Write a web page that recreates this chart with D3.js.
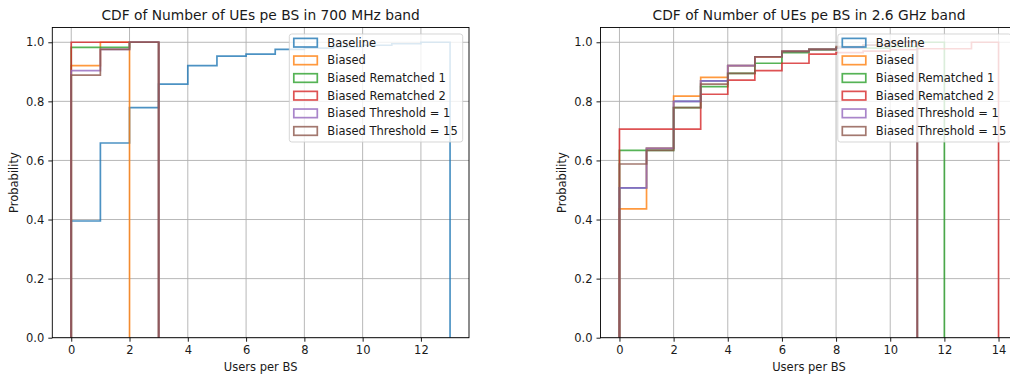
<!DOCTYPE html>
<html>
<head>
<meta charset="utf-8">
<script src="https://cdn.jsdelivr.net/npm/d3@7"></script>
<style>
  body { margin: 0; background: #fff; }
  svg { display: block; overflow: hidden; }
  text { font-family: "DejaVu Sans", sans-serif; fill: #1a1a1a; }
</style>
</head>
<body>
<div id="chart"></div>
<script>
// cumulative share of BSs per bin, bins start at 0 and are 1 user wide
var seriesNames = ["Baseline", "Biased", "Biased Rematched 1", "Biased Rematched 2",
    "Biased Threshold = 1", "Biased Threshold = 15"];
var seriesColors = ["#1f77b4", "#ff7f0e", "#2ca02c", "#d62728", "#9467bd", "#8c564b"];

var baseline700 = [0.395, 0.659, 0.779, 0.858, 0.921, 0.953, 0.960, 0.976, 0.980, 0.985, 0.990, 0.995, 1.0];
var biased700 = [0.921, 1.0];
var rematched1_700 = [0.983, 0.983, 1.0];
var rematched2_700 = [1.0, 1.0, 1.0];
var threshold1_700 = [0.904, 0.976, 1.0];
var threshold15_700 = [0.889, 0.976, 1.0];

var baseline26 = [0.507, 0.641, 0.800, 0.869, 0.921, 0.951, 0.969, 0.976, 0.980, 0.990, 1.0];
var biased26 = [0.436, 0.641, 0.818, 0.881, 0.921, 0.950, 0.969, 0.976, 0.980, 0.990, 1.0];
var rematched1_26 = [0.634, 0.634, 0.779, 0.850, 0.895, 0.929, 0.965, 0.975, 0.980, 0.980, 0.985, 1.0];
var rematched2_26 = [0.706, 0.706, 0.706, 0.824, 0.872, 0.904, 0.929, 0.960, 0.965, 0.970, 0.975, 0.978, 0.978, 1.0];
var threshold1_26 = [0.507, 0.641, 0.800, 0.869, 0.921, 0.951, 0.969, 0.976, 0.980, 0.990, 1.0];
var threshold15_26 = [0.588, 0.634, 0.779, 0.858, 0.895, 0.951, 0.969, 0.976, 0.985, 0.990, 1.0];

var xTicks700 = [0, 2, 4, 6, 8, 10, 12];
var xTicks26 = [0, 2, 4, 6, 8, 10, 12, 14];
var yTicks = [0, 0.2, 0.4, 0.6, 0.8, 1.0];

(function () {

    var width = 1010, height = 377;
    var top = 27.5, bottom = 337.7;
    var fs = 11.5;

    var svg = d3.select("#chart").append("svg")
        .attr("width", width)
        .attr("height", height);

    var panels = [
        {
            title: "CDF of Number of UEs pe BS in 700 MHz band",
            left: 52.3, right: 469,
            series: [baseline700, biased700, rematched1_700, rematched2_700, threshold1_700, threshold15_700],
            ticks: xTicks700
        },
        {
            title: "CDF of Number of UEs pe BS in 2.6 GHz band",
            left: 600.5, right: 1017.5,
            series: [baseline26, biased26, rematched1_26, rematched2_26, threshold1_26, threshold15_26],
            ticks: xTicks26
        }
    ];

    panels.forEach(drawPanel);

    function drawPanel(p) {
        var maxEdge = d3.max(p.series, function (s) { return s.length; });
        var pad = maxEdge * 0.05;
        var x = d3.scaleLinear().domain([-pad, maxEdge + pad]).range([p.left, p.right]);
        // hist keeps the bottom of the y range at 0
        var y = d3.scaleLinear().domain([0, 1.05]).range([bottom, top]);

        var g = svg.append("g");

        var clipId = "clip" + Math.round(p.left);
        g.append("clipPath").attr("id", clipId)
            .append("rect")
            .attr("x", p.left).attr("y", top)
            .attr("width", p.right - p.left).attr("height", bottom - top);

        var grid = g.append("g").attr("stroke", "#b0b0b0").attr("stroke-width", 0.9);
        grid.selectAll(".vg").data(p.ticks).enter().append("line")
            .attr("x1", function (d) { return x(d); }).attr("x2", function (d) { return x(d); })
            .attr("y1", top).attr("y2", bottom);
        grid.selectAll(".hg").data(yTicks).enter().append("line")
            .attr("x1", p.left).attr("x2", p.right)
            .attr("y1", function (d) { return y(d); }).attr("y2", function (d) { return y(d); });

        // step outline of each cumulative histogram
        var line = d3.line()
            .x(function (d) { return x(d[0]); })
            .y(function (d) { return y(d[1]); });

        var stepPoints = function (vals) {
            var pts = [[0, 0]];
            vals.forEach(function (v, i) {
                pts.push([i, v]);
                pts.push([i + 1, v]);
            });
            pts.push([vals.length, 0]);
            return pts;
        };

        g.append("g").attr("clip-path", "url(#" + clipId + ")")
            .selectAll("path")
            .data(p.series)
            .enter().append("path")
            .attr("d", function (d) { return line(stepPoints(d)); })
            .attr("fill", "none")
            .attr("stroke", function (d, i) { return seriesColors[i]; })
            .attr("stroke-opacity", 0.8)
            .attr("stroke-width", 1.7);

        g.append("rect")
            .attr("x", p.left).attr("y", top)
            .attr("width", p.right - p.left).attr("height", bottom - top)
            .attr("fill", "none").attr("stroke", "#000").attr("stroke-width", 0.9);

        var xAxis = d3.axisBottom(x).tickValues(p.ticks).tickSize(4).tickPadding(4)
            .tickFormat(d3.format("d"));
        g.append("g")
            .attr("transform", "translate(0," + bottom + ")")
            .call(xAxis)
            .call(styleAxis);

        var yAxis = d3.axisLeft(y).tickValues(yTicks).tickSize(4).tickPadding(4)
            .tickFormat(d3.format(".1f"));
        g.append("g")
            .attr("transform", "translate(" + p.left + ",0)")
            .call(yAxis)
            .call(styleAxis);

        g.append("text")
            .attr("x", (p.left + p.right) / 2)
            .attr("y", 20)
            .attr("text-anchor", "middle")
            .style("font-size", "13.8px")
            .text(p.title);

        g.append("text")
            .attr("x", (p.left + p.right) / 2)
            .attr("y", 371)
            .attr("text-anchor", "middle")
            .style("font-size", fs + "px")
            .text("Users per BS");

        g.append("text")
            .attr("transform", "translate(" + (p.left - 38.5) + "," + ((top + bottom) / 2) + ") rotate(-90)")
            .attr("dy", "0.35em")
            .attr("text-anchor", "middle")
            .style("font-size", fs + "px")
            .text("Probability");

        // legend
        var lw = 173.4, lh = 108;
        var lx = p.right - 6.3 - lw, ly = top + 6.5;
        var legend = g.append("g").attr("transform", "translate(" + lx + "," + ly + ")");
        legend.append("rect")
            .attr("width", lw).attr("height", lh)
            .attr("rx", 2.5)
            .attr("fill", "#fff").attr("fill-opacity", 0.8)
            .attr("stroke", "#cccccc").attr("stroke-opacity", 0.8).attr("stroke-width", 1);
        var rows = legend.selectAll(".item")
            .data(seriesNames)
            .enter().append("g")
            .attr("transform", function (d, i) { return "translate(0," + (8.7 + i * 17.66) + ")"; });
        rows.append("rect")
            .attr("x", 4.5).attr("y", -4.3)
            .attr("width", 23.5).attr("height", 8.6)
            .attr("fill", "none")
            .attr("stroke", function (d, i) { return seriesColors[i]; })
            .attr("stroke-opacity", 0.8)
            .attr("stroke-width", 1.7);
        rows.append("text")
            .attr("x", 38)
            .attr("dy", "0.35em")
            .style("font-size", fs + "px")
            .text(function (d) { return d; });
    }

    function styleAxis(sel) {
        sel.select(".domain").remove();
        sel.selectAll(".tick line").attr("stroke", "#000").attr("stroke-width", 0.9);
        sel.selectAll(".tick text")
            .style("font-size", fs + "px")
            .style("font-family", "'DejaVu Sans', sans-serif")
            .attr("fill", "#1a1a1a");
    }
})();
</script>
</body>
</html>
